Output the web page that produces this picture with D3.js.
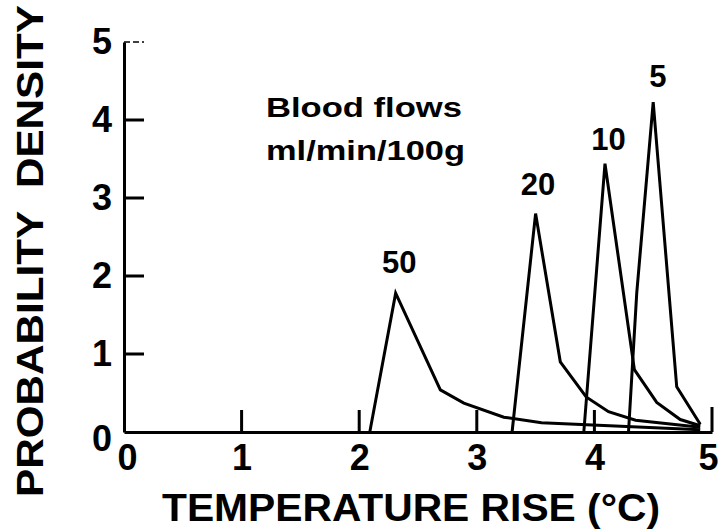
<!DOCTYPE html>
<html>
<head>
<meta charset="utf-8">
<script src="https://cdn.jsdelivr.net/npm/d3@7"></script>
<style>
  html, body { margin: 0; padding: 0; background: #fff; }
  svg text { font-family: "Liberation Sans", Arial, Helvetica, sans-serif; font-weight: bold; fill: #000; }
</style>
</head>
<body>
<svg id="chart" width="721" height="531"></svg>
<script>
// Temperature-rise probability densities for four tissue blood flows (ml/min/100g)
const flows = ["50", "20", "10", "5"];

const rise50 = [2.09, 2.31, 2.69, 2.89, 3.23, 3.55, 4.90];
const dens50 = [0.00, 1.78, 0.54, 0.37, 0.19, 0.12, 0.03];

const rise20 = [3.30, 3.50, 3.71, 3.93, 4.12, 4.35, 4.90];
const dens20 = [0.00, 2.80, 0.90, 0.45, 0.26, 0.15, 0.06];

const rise10 = [3.91, 4.09, 4.34, 4.53, 4.73, 4.90];
const dens10 = [0.00, 3.44, 0.80, 0.38, 0.16, 0.08];

const rise5 = [4.29, 4.36, 4.50, 4.70, 4.90];
const dens5 = [0.00, 1.78, 4.23, 0.58, 0.10];

// where each curve's flow label sits (temperature, density)
const labelRise = [2.34, 3.52, 4.12, 4.54];
const labelDens = [2.04, 3.04, 3.62, 4.42];

const xTicks = [0, 1, 2, 3, 4, 5];
const yTicks = [0, 1, 2, 3, 4, 5];

const series = [
  { rise: rise50, dens: dens50 },
  { rise: rise20, dens: dens20 },
  { rise: rise10, dens: dens10 },
  { rise: rise5, dens: dens5 }
];

const svg = d3.select("#chart");
const x = d3.scaleLinear().domain([0, 5]).range([124, 712]);
const y = d3.scaleLinear().domain([0, 5]).range([432, 42]);

// x axis line and labels
const gx = svg.append("g")
  .attr("transform", `translate(0,${y(0)})`)
  .call(d3.axisBottom(x).tickValues(xTicks).tickFormat(d3.format("d"))
    .tickSize(0).tickPadding(12));
gx.select(".domain").attr("stroke", "#000").attr("stroke-width", 3);
gx.selectAll(".tick text").attr("font-size", 36).attr("font-family", null)
  .attr("dx", d => d === 5 ? -4 : d === 0 ? 3 : 0);

// y axis line and labels
const gy = svg.append("g")
  .attr("transform", `translate(${x(0)},0)`)
  .call(d3.axisLeft(y).tickValues(yTicks).tickFormat(d3.format("d"))
    .tickSize(0).tickPadding(12));
gy.select(".domain").attr("stroke", "#000").attr("stroke-width", 3);
gy.selectAll(".tick text").attr("font-size", 36).attr("font-family", null)
  .attr("dy", d => d === 0 ? "0.5em" : "0.32em");

// inward tick marks drawn as one path
const tickPath = d3.path();
xTicks.filter(d => d > 0).forEach(d => {
  tickPath.moveTo(x(d), y(0));
  tickPath.lineTo(x(d), y(0) - (d === 5 ? 25 : 22));
});
yTicks.filter(d => d > 0 && d < 5).forEach(d => {
  tickPath.moveTo(x(0), y(d));
  tickPath.lineTo(x(0) + 20, y(d));
});
svg.append("path")
  .attr("d", tickPath.toString())
  .attr("fill", "none")
  .attr("stroke", "#000")
  .attr("stroke-width", 3);

// faint dashed mark at the top of the density axis
svg.append("path")
  .attr("d", `M${x(0)},${y(5)}H${x(0) + 20}`)
  .attr("stroke", "#000")
  .attr("stroke-width", 1.6)
  .attr("stroke-dasharray", "6,3");

// density curves
const line = d3.line().x(d => x(d[0])).y(d => y(d[1]));
svg.append("g").selectAll("path")
  .data(series)
  .join("path")
  .attr("d", s => line(s.rise.map((r, i) => [r, s.dens[i]])))
  .attr("fill", "none")
  .attr("stroke", "#000")
  .attr("stroke-width", 3)
  .attr("stroke-linejoin", "miter");

// flow labels above each peak
svg.append("g").selectAll("text")
  .data(flows)
  .join("text")
  .attr("x", (d, i) => x(labelRise[i]))
  .attr("y", (d, i) => y(labelDens[i]))
  .attr("text-anchor", "middle")
  .attr("font-size", 31)
  .text(d => d);

// legend note
svg.append("text").attr("x", 266).attr("y", 117).attr("font-size", 28)
  .attr("textLength", 196).attr("lengthAdjust", "spacingAndGlyphs").text("Blood flows");
svg.append("text").attr("x", 266).attr("y", 160).attr("font-size", 28)
  .attr("textLength", 199).attr("lengthAdjust", "spacingAndGlyphs").text("ml/min/100g");

// axis titles
svg.append("text")
  .attr("x", 411).attr("y", 521)
  .attr("text-anchor", "middle")
  .attr("font-size", 38)
  .attr("textLength", 498).attr("lengthAdjust", "spacingAndGlyphs")
  .text("TEMPERATURE RISE (°C)");

svg.append("text")
  .attr("transform", "translate(43,251) rotate(-90)")
  .attr("text-anchor", "middle")
  .attr("font-size", 36)
  .attr("textLength", 492).attr("lengthAdjust", "spacingAndGlyphs")
  .style("white-space", "pre")
  .text("PROBABILITY  DENSITY");
</script>
</body>
</html>
